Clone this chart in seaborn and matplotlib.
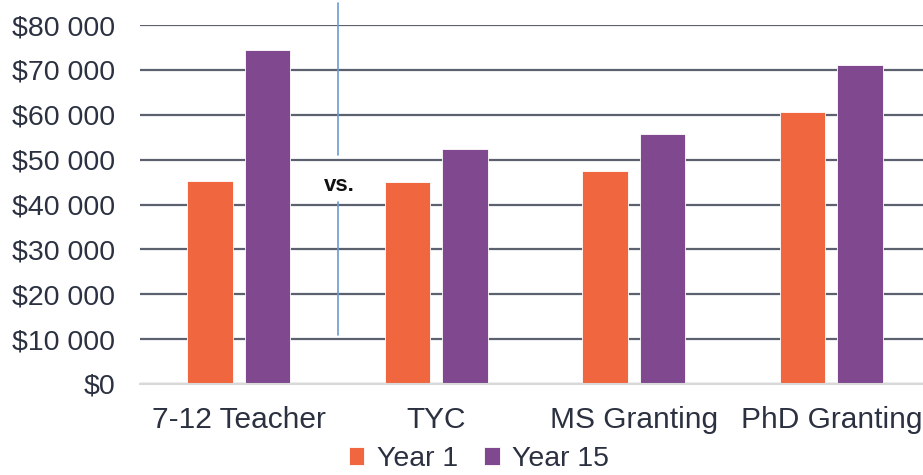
import matplotlib
matplotlib.use("Agg")
import matplotlib.pyplot as plt
import matplotlib.ticker as mticker
import seaborn as sns
import pandas as pd

categories = ["7-12 Teacher", "TYC", "MS Granting", "PhD Granting"]
year1 = [45300, 45100, 47500, 60700]
year15 = [74400, 52400, 55600, 71100]
series_names = ["Year 1", "Year 15"]
y_ticks = [0, 10000, 20000, 30000, 40000, 50000, 60000, 70000, 80000]

df = pd.DataFrame({
    "Category": categories * 2,
    "Salary": year1 + year15,
    "Series": [series_names[0]] * len(categories) + [series_names[1]] * len(categories),
})

sns.set_theme(style="white")
plt.rcParams["font.family"] = ["Liberation Sans", "DejaVu Sans"]

text_color = "#2B3140"
colors = {"Year 1": "#F0663F", "Year 15": "#7F488F"}

fig = plt.figure(figsize=(9.23, 4.75), dpi=100)
ax = fig.add_axes([140 / 923, 1 - 384 / 475, 790 / 923, (384 - 25) / 475])

sns.barplot(data=df, x="Category", y="Salary", hue="Series", order=categories,
            hue_order=series_names, palette=colors, width=0.58, gap=0.21,
            saturation=1, ax=ax, legend=True)

for p in ax.patches:
    p.set_edgecolor("white")
    p.set_linewidth(0.6)

ax.set_xlim(-0.5, len(categories) - 0.5)
ax.set_ylim(0, 80000)
ax.set_yticks(y_ticks)
ax.yaxis.set_major_formatter(mticker.FuncFormatter(
    lambda v, pos: "$" + f"{int(v):,}".replace(",", " ")))
ax.grid(axis="y", color="#5C6170", linewidth=1.6)
ax.set_axisbelow(True)
ax.set_xlabel("")
ax.set_ylabel("")
for s in ["left", "right", "top"]:
    ax.spines[s].set_visible(False)
ax.spines["bottom"].set_color("#D9D9D9")
ax.spines["bottom"].set_linewidth(1.5)
ax.tick_params(axis="y", length=0, pad=18, labelsize=20.5, labelcolor=text_color)
ax.tick_params(axis="x", length=0, pad=16, labelsize=21.5, labelcolor=text_color)

# separator line with "vs."
ax.plot([0.5, 0.5], [51000, 84900], color="#6A9BD1", linewidth=1.2, clip_on=False)
ax.plot([0.5, 0.5], [10900, 40500], color="#6A9BD1", linewidth=1.2, clip_on=False)
ax.text(0.51, 44300, "vs.", ha="center", va="center", fontsize=16,
        fontweight="bold", color="#111111")

leg = ax.get_legend()
handles, labels = ax.get_legend_handles_labels()
leg.remove()
fig.legend(handles, labels, loc="center", bbox_to_anchor=(479 / 923, 1 - 459 / 475),
           ncol=2, frameon=False, fontsize=20.5, handlelength=0.55, handleheight=0.55,
           handletextpad=0.45, columnspacing=0.9, labelcolor=text_color,
           borderpad=0.2)

fig.savefig("out.png", dpi=100)
